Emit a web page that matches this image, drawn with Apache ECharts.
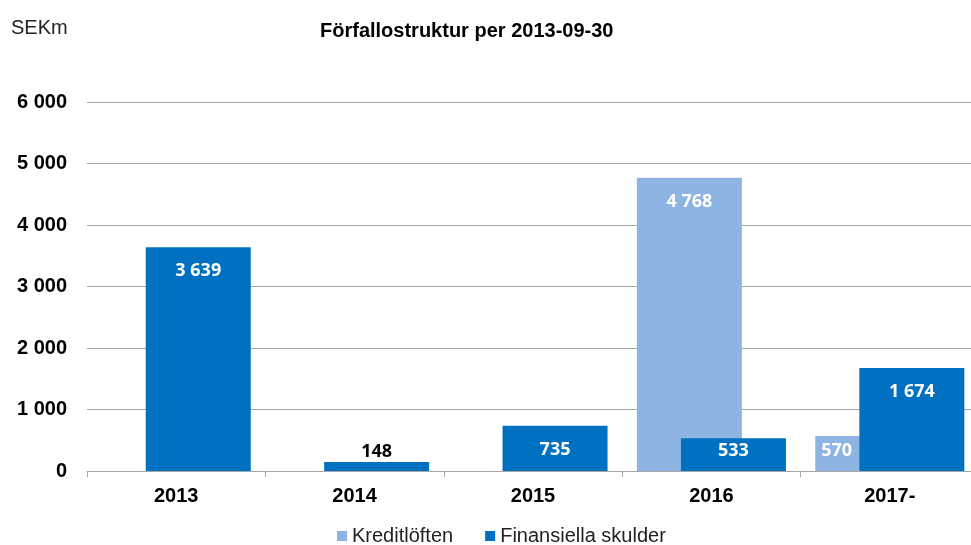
<!DOCTYPE html>
<html><head><meta charset="utf-8">
<script src="https://cdn.jsdelivr.net/npm/echarts@6/dist/echarts.min.js"></script>
<style>html,body{margin:0;padding:0;background:#fff;overflow:hidden}#c{width:979px;height:545px}</style>
</head><body><div id="c"></div>
<script>
const categories = ['2013', '2014', '2015', '2016', '2017-'];
const kreditloften = [null, null, null, 4768, 570];
const finansiellaSkulder = [3639, 148, 735, 533, 1674];
const yTicks = [0, 1000, 2000, 3000, 4000, 5000, 6000];

function fmt(v) { return String(v).replace(/\B(?=(\d{3})+(?!\d))/g, ' '); }

function items(arr, partlyHidden) {
  return arr.map(v => {
    if (v == null) return null;
    let label;
    if (v < 300) label = { position: 'top', distance: 1, color: '#000' };
    else if (v < 650) label = { position: partlyHidden ? 'insideTopLeft' : 'insideTop', distance: partlyHidden ? 6 : 4, color: '#fff' };
    else label = { position: 'insideTop', distance: 15, color: '#fff' };
    return { value: v, label };
  });
}

const labelBase = {
  show: true, fontFamily: 'Open Sans', fontWeight: 'bold', fontSize: 18,
  formatter: p => fmt(p.value)
};

const chart = echarts.init(document.getElementById('c'));
chart.setOption({
  animation: false,
  title: [
    { text: 'Förfallostruktur per 2013-09-30', left: 315, top: 16,
      textStyle: { fontFamily: 'Liberation Sans', fontWeight: 'bold', fontSize: 20, color: '#000' } },
    { text: 'SEKm', left: 6, top: 13,
      textStyle: { fontFamily: 'Liberation Sans', fontWeight: 'normal', fontSize: 20, color: '#222' } }
  ],
  legend: {
    top: 521, left: 332, itemWidth: 10, itemHeight: 10, itemGap: 32,
    icon: 'rect',
    textStyle: { fontFamily: 'Liberation Sans', fontSize: 20, color: '#222' },
    data: ['Kreditlöften', 'Finansiella skulder']
  },
  grid: { left: 87, right: 0, top: 102, bottom: 74 },
  xAxis: {
    type: 'category', data: categories,
    axisLine: { lineStyle: { color: '#a6a6a6', width: 1 } },
    axisTick: { show: true, length: 6, lineStyle: { color: '#a6a6a6' } },
    axisLabel: { fontFamily: 'Liberation Sans', fontWeight: 'bold', fontSize: 20, color: '#000', margin: 15 }
  },
  yAxis: {
    type: 'value', min: yTicks[0], max: yTicks[yTicks.length - 1], interval: 1000,
    axisLine: { show: false }, axisTick: { show: false },
    splitLine: { lineStyle: { color: '#a6a6a6', width: 1 } },
    axisLabel: { fontFamily: 'Liberation Sans', fontWeight: 'bold', fontSize: 20, color: '#000', margin: 20,
      formatter: v => fmt(v) }
  },
  series: [
    { name: 'Kreditlöften', type: 'bar', barWidth: 105, barGap: '-58%',
      itemStyle: { color: '#8EB4E3' }, label: labelBase, data: items(kreditloften, true) },
    { name: 'Finansiella skulder', type: 'bar', barWidth: 105,
      itemStyle: { color: '#0070C0' }, label: labelBase, data: items(finansiellaSkulder, false) }
  ]
});
</script></body></html>
